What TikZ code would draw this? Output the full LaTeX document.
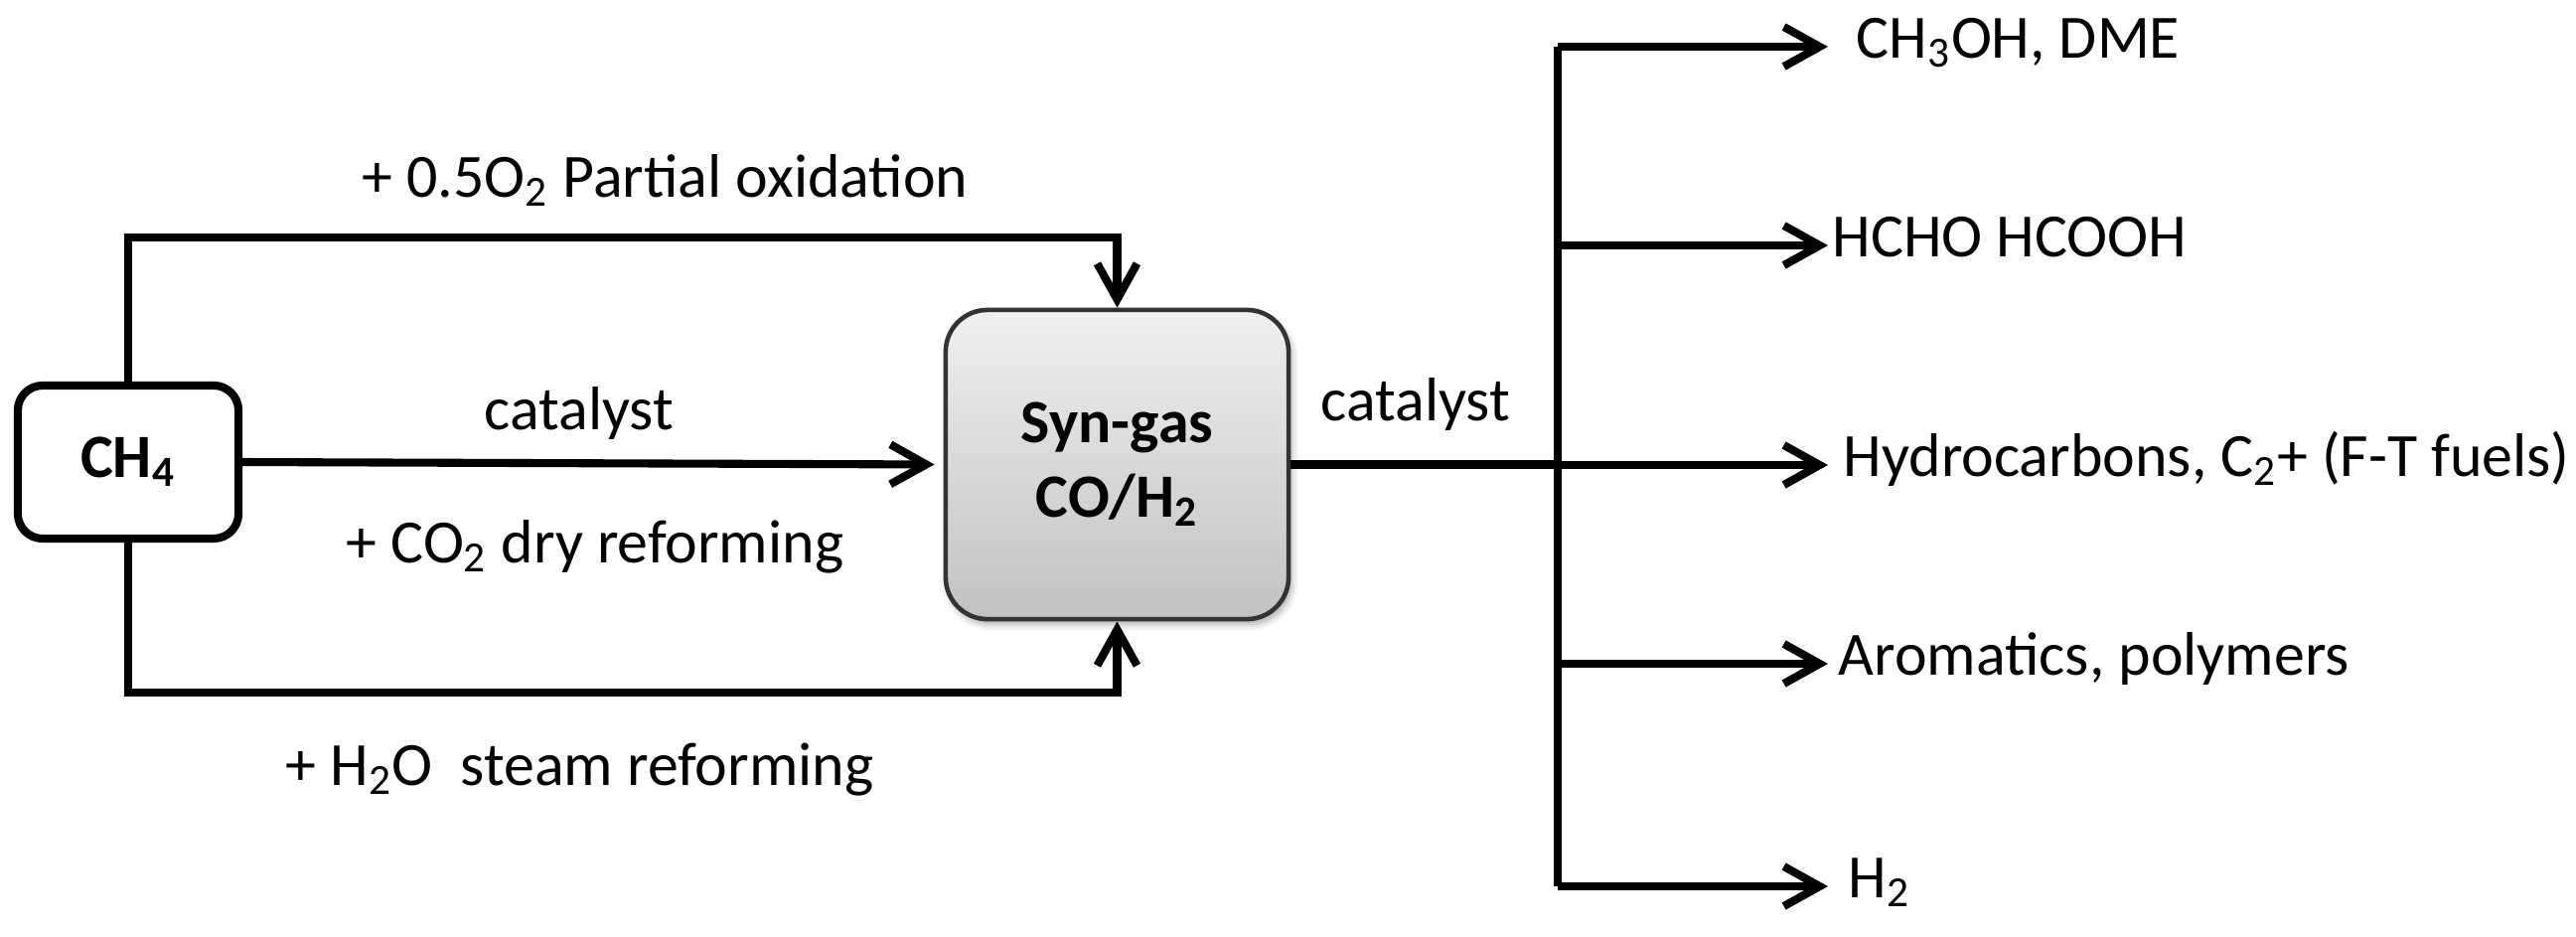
\documentclass[tikz,border=0pt]{standalone}
\usepackage{fontspec}
\setmainfont{Carlito}
\usetikzlibrary{arrows.meta,shadows.blur,calc}
\begin{document}
\begin{tikzpicture}[x=0.01cm,y=-0.01cm,
  font=\fontsize{17.6}{20.7}\selectfont,
  flow/.style={line width=2.3pt},
  arr/.style={flow,-{Straight Barb[length=0.36cm,width=0.40cm]}},
  lbl/.style={anchor=base west,inner sep=0pt},
  prod/.style={anchor=west,inner sep=0pt,text height=0.9em,text depth=0.256em},
  ch4box/.style={draw,line width=2.3pt,rounded corners=0.25cm,minimum width=2.22cm,minimum height=1.54cm,font=\fontsize{17.6}{20.7}\selectfont\bfseries},
  synbox/.style={draw=black!80,line width=1.3pt,rounded corners=0.42cm,minimum width=3.45cm,minimum height=3.11cm,
     top color=gray!12,bottom color=gray!48,align=center,font=\fontsize{17.6}{20.7}\selectfont\bfseries,
     blur shadow={shadow xshift=0.03cm,shadow yshift=-0.05cm,shadow blur radius=0.07cm,shadow opacity=35}}]
\useasboundingbox (0,0) rectangle (2593,942);

\node[ch4box] (ch4) at (129,465) {CH\textsubscript{4}};
\node[synbox] (syn) at (1124.5,467.5) {Syn-gas\\[0.6pt]CO/H\textsubscript{2}};

% left connectors
\draw[arr] (ch4.north) -- ++(0,-145) -| (syn.north);
\draw[arr,shorten >=0.09cm] (ch4.east) -- (syn.west);
\draw[arr] (ch4.south) -- ++(0,151) -| (syn.south);

% left labels
\node[lbl] (lpo) at (364,198) {+ 0.5O\textsubscript{2} Partial oxidation};
\node[lbl] (lcat1) at (487,432) {catalyst};
\node[lbl] (ldry) at (348,566) {+ CO\textsubscript{2} dry reforming};
\node[lbl] (lsteam) at (287,790) {+ H\textsubscript{2}O\ \ steam reforming};
\node[lbl] (lcat2) at (1329,423) {catalyst};

% bus
\coordinate (j1) at (1568,47);
\coordinate (j2) at (1568,247);
\coordinate (j3) at (1568,468);
\coordinate (j4) at (1568,668);
\coordinate (j5) at (1568,892);
\draw[flow] (syn.east) -- (syn.east -| j3);
\draw[flow] (j1) -- (j5);

% products
\node[prod] (p1) at (1868,47) {CH\textsubscript{3}OH, DME};
\node[prod] (p2) at (1844,247) {HCHO HCOOH};
\node[prod] (p3) at (1855,468) {Hydrocarbons, C\textsubscript{2}+ (F-T fuels)};
\node[prod] (p4) at (1850,668) {Aromatics, polymers};
\node[prod] (p5) at (1860,892) {H\textsubscript{2}};

\draw[arr,shorten >=0.28cm] (j1) -- (p1.west);
\draw[arr,shorten >=0.04cm] (j2) -- (p2.west);
\draw[arr,shorten >=0.15cm] (j3) -- (p3.west);
\draw[arr,shorten >=0.10cm] (j4) -- (p4.west);
\draw[arr,shorten >=0.20cm] (j5) -- (p5.west);
\end{tikzpicture}
\end{document}
